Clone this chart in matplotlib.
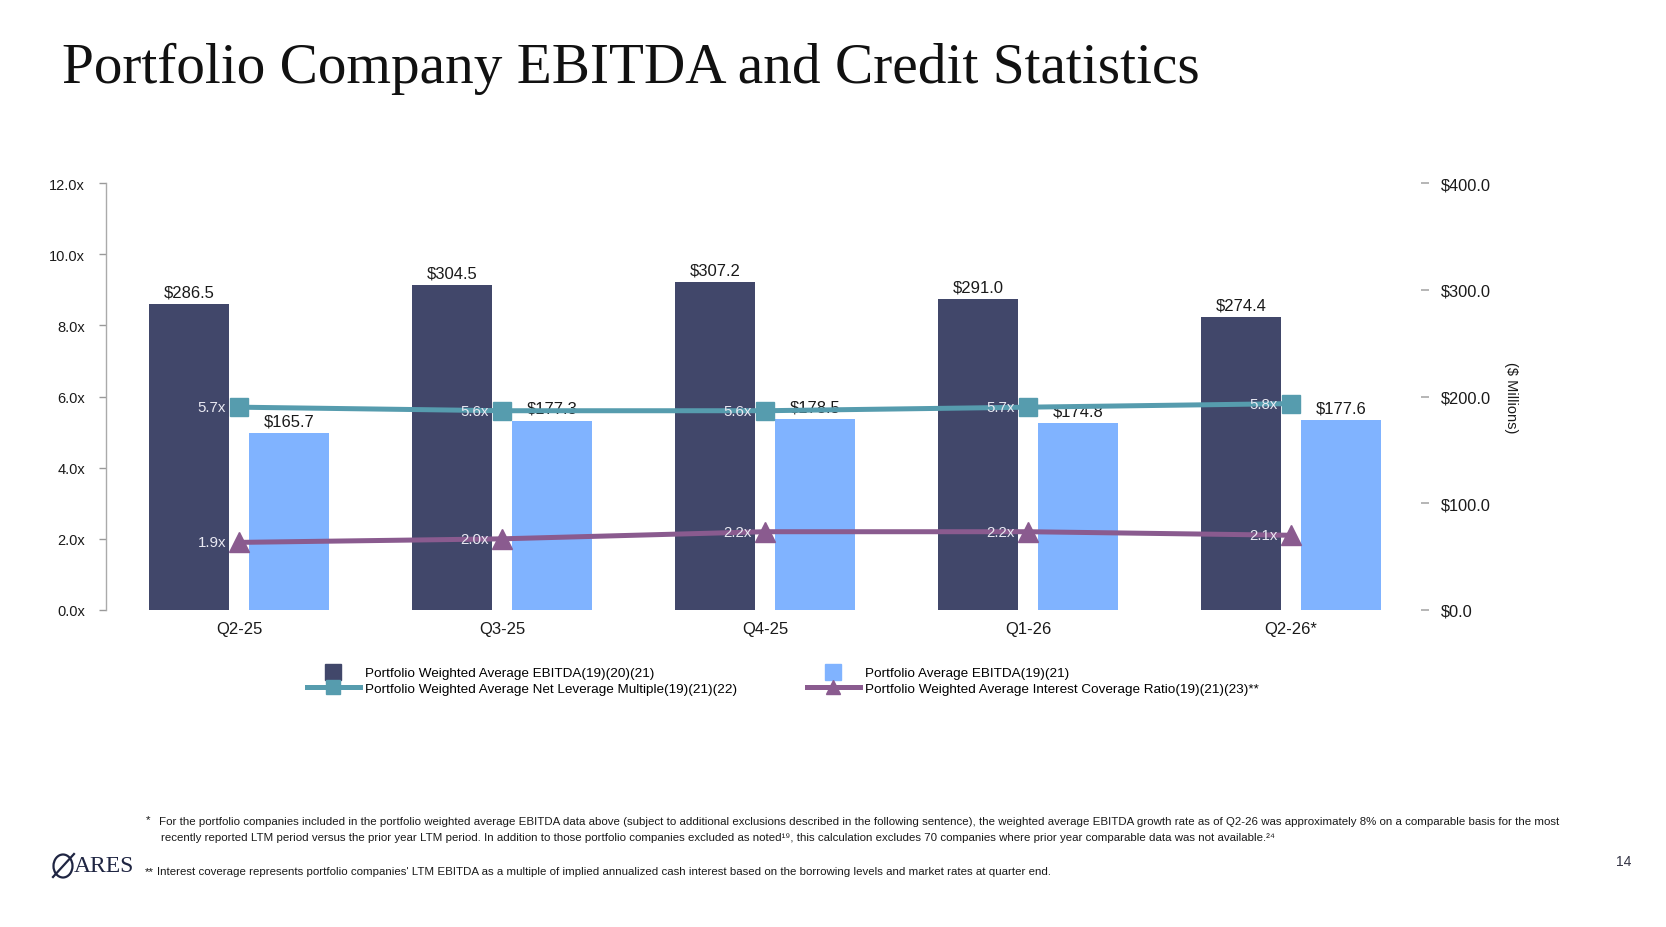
import numpy as np
import matplotlib
matplotlib.use("Agg")
import matplotlib.pyplot as plt
from matplotlib import font_manager
from matplotlib.lines import Line2D
from matplotlib.patches import Ellipse

# data
quarters = ["Q2-25", "Q3-25", "Q4-25", "Q1-26", "Q2-26*"]
weighted_ebitda = [286.5, 304.5, 307.2, 291.0, 274.4]
average_ebitda = [165.7, 177.3, 178.5, 174.8, 177.6]
net_leverage = [5.7, 5.6, 5.6, 5.7, 5.8]
interest_coverage = [1.9, 2.0, 2.2, 2.2, 2.1]

left_ticks = [0, 2, 4, 6, 8, 10, 12]
right_ticks = [0, 100, 200, 300, 400]

legend_labels = [
    "Portfolio Weighted Average EBITDA(19)(20)(21)",
    "Portfolio Average EBITDA(19)(21)",
    "Portfolio Weighted Average Net Leverage Multiple(19)(21)(22)",
    "Portfolio Weighted Average Interest Coverage Ratio(19)(21)(23)**",
]

DARK = "#41476a"
LIGHT = "#80b3ff"
TEAL = "#569cae"
PURPLE = "#8a5b8f"
TXT = "#1a1a1a"

available = {f.name for f in font_manager.fontManager.ttflist}
SANS = "Liberation Sans"
NARROW = "Liberation Sans Narrow" if "Liberation Sans Narrow" in available else "Liberation Sans"
SERIF = "Liberation Serif"
plt.rcParams["font.family"] = [SANS, "DejaVu Sans"]

W, H = 1666, 928
fig = plt.figure(figsize=(W / 100, H / 100), dpi=100)


def fx(px):
    return px / W


def fy(py):
    return 1 - py / H


fig.text(fx(62), fy(83), "Portfolio Company EBITDA and Credit Statistics",
         family=SERIF, fontsize=41.2, color="#111111", va="baseline", ha="left")

ax = fig.add_axes([fx(106), fy(611), fx(1421) - fx(106), fy(184) - fy(611)])
ax2 = ax.twinx()

x = np.arange(len(quarters))
bw = 0.305
off = 0.19

ax.bar(x - off, weighted_ebitda, bw, color=DARK, zorder=2)
ax.bar(x + off, average_ebitda, bw, color=LIGHT, zorder=2)
for xi, v in zip(x - off, weighted_ebitda):
    ax.annotate(f"${v:.1f}", (xi, v), xytext=(0, 3.5), textcoords="offset points",
                ha="center", va="bottom", fontsize=12, color=TXT)
for xi, v in zip(x + off, average_ebitda):
    ax.annotate(f"${v:.1f}", (xi, v), xytext=(0, 3.5), textcoords="offset points",
                ha="center", va="bottom", fontsize=12, color=TXT)

ax.set_ylim(0, 400)
ax.set_xlim(-0.506, 4.494)
ax.set_yticks(right_ticks)
ax.set_yticklabels([f"${t:.1f}" for t in right_ticks])
ax.yaxis.tick_right()
ax.yaxis.set_label_position("right")
ax.tick_params(axis="y", length=6, width=1.3, color="#b0b0b0", pad=8,
               labelsize=11.8, labelcolor=TXT)
ax.set_xticks(x)
ax.set_xticklabels(quarters)
ax.tick_params(axis="x", length=0, pad=8, labelsize=12, labelcolor=TXT)
for s in ax.spines.values():
    s.set_visible(False)

ax2.plot(x, net_leverage, color=TEAL, lw=3.6, marker="s", ms=13.5, zorder=3)
ax2.plot(x, interest_coverage, color=PURPLE, lw=3.6, marker="^", ms=14, zorder=3)
for xi, v in zip(x, net_leverage):
    ax2.annotate(f"{v:.1f}x", (xi, v), xytext=(-9.5, 0), textcoords="offset points",
                 ha="right", va="center", fontsize=10.8, color="#e9e9f2")
for xi, v in zip(x, interest_coverage):
    ax2.annotate(f"{v:.1f}x", (xi, v), xytext=(-9.5, 0), textcoords="offset points",
                 ha="right", va="center", fontsize=10.8, color="#e9e9f2")

ax2.set_ylim(0, 12)
ax2.set_yticks(left_ticks)
ax2.set_yticklabels([f"{t:.1f}x" for t in left_ticks])
ax2.yaxis.tick_left()
ax2.tick_params(axis="y", length=5, width=1.0, color="#999999", pad=10,
                labelsize=10.5, labelcolor=TXT)
for name, s in ax2.spines.items():
    s.set_visible(name == "left")
ax2.spines["left"].set_color("#aaaaaa")
ax2.spines["left"].set_linewidth(1.0)

fig.text(fx(1511), fy(398), "($ Millions)", rotation=270, ha="center", va="center",
         fontsize=10.5, color=TXT)

handles = [
    Line2D([], [], color=DARK, marker="s", ls="none", ms=11),
    Line2D([], [], color=TEAL, marker="s", lw=3.6, ms=10),
    Line2D([], [], color=LIGHT, marker="s", ls="none", ms=11),
    Line2D([], [], color=PURPLE, marker="^", lw=3.6, ms=10),
]
labels = [legend_labels[0], legend_labels[2], legend_labels[1], legend_labels[3]]
fig.legend(handles, labels, loc="upper left", bbox_to_anchor=(fx(307), fy(668)),
           ncol=2, frameon=False, fontsize=9.7, handlelength=3.9, handletextpad=0.4,
           columnspacing=5.2, labelspacing=0.22, borderpad=0, borderaxespad=0)

fn1a = ("For the portfolio companies included in the portfolio weighted average EBITDA data above "
        "(subject to additional exclusions described in the following sentence), the weighted average "
        "EBITDA growth rate as of Q2-26 was approximately 8% on a comparable basis for the most")
fn1b = ("recently reported LTM period versus the prior year LTM period. In addition to those portfolio "
        "companies excluded as noted\u00b9\u2079, this calculation excludes 70 companies where prior "
        "year comparable data was not available.\u00b2\u2074")
fn2 = ("Interest coverage represents portfolio companies' LTM EBITDA as a multiple of implied "
       "annualized cash interest based on the borrowing levels and market rates at quarter end.")

# size the footnotes so the first line spans the same width as on the slide
fn_kw = dict(family=[NARROW, "DejaVu Sans"], color=TXT, va="center", ha="left")
probe = fig.text(0, 0, fn1a, fontsize=10, **fn_kw)
w10 = probe.get_window_extent(fig.canvas.get_renderer()).width
probe.remove()
fn_size = 10 * 1400 / w10

fig.text(fx(146), fy(820), "*", fontsize=fn_size, **fn_kw)
fig.text(fx(159), fy(822), fn1a, fontsize=fn_size, **fn_kw)
fig.text(fx(161), fy(838), fn1b, fontsize=fn_size, **fn_kw)
fig.text(fx(145), fy(872), "**", fontsize=fn_size, **fn_kw)
fig.text(fx(157), fy(872), fn2, fontsize=fn_size, **fn_kw)

# logo
fig.text(fx(74), fy(867), "ARES", family=SERIF, fontsize=17, color="#1f2542",
         ha="left", va="center")
fig.patches.append(Ellipse((fx(63), fy(867)), fx(19), 23 / H, angle=0, fill=False,
                           lw=1.6, ec="#1f2542", transform=fig.transFigure))
fig.lines.append(Line2D([fx(53), fx(74)], [fy(878), fy(855)], color="#1f2542", lw=1.6,
                        transform=fig.transFigure))

fig.text(fx(1624), fy(862), "14", fontsize=10, color="#333344", ha="center", va="center")

fig.savefig("out.png", dpi=100)
